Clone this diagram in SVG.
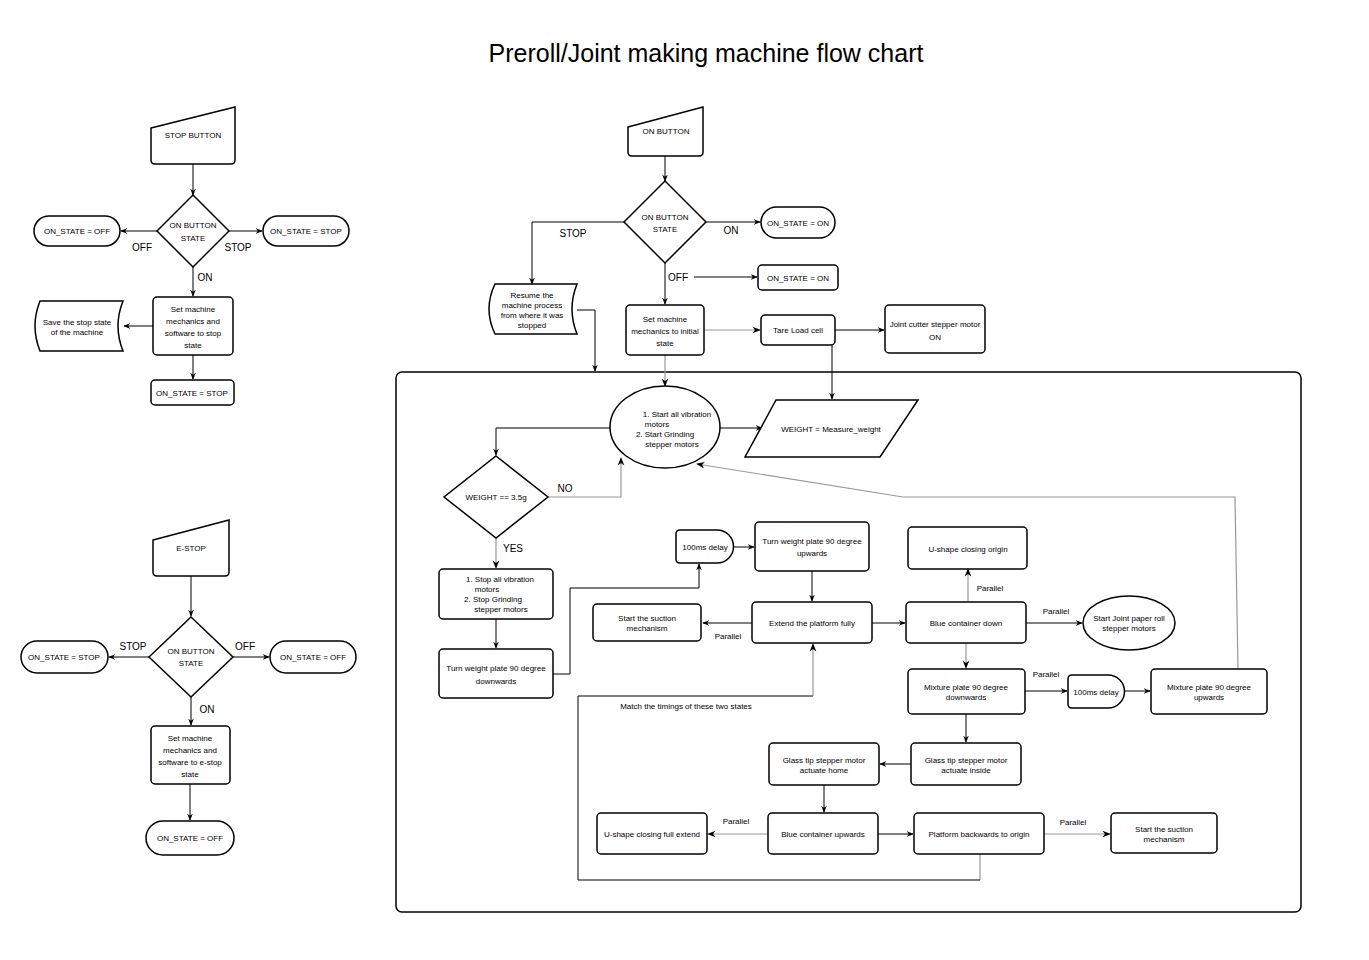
<svg xmlns="http://www.w3.org/2000/svg" width="1369" height="960" viewBox="0 0 1369 960">
<style>
.s{fill:#fff;stroke:#000;stroke-width:1.5}
.c{fill:none;stroke:#000;stroke-width:1}
.g{fill:none;stroke:#999;stroke-width:1.2}
text{font-family:"Liberation Sans",Arial,sans-serif;font-size:8px;text-anchor:middle;fill:#000}
.l{font-size:10px}
.t{font-size:25px}
</style>
<defs><marker id="a" viewBox="0 0 10 10" refX="9" refY="5" markerWidth="7" markerHeight="7" orient="auto"><path d="M0,1 L10,5 L0,9 L3,5 z" fill="#000"/></marker></defs>
<rect width="1369" height="960" fill="#fff"/>
<text class="t" x="706" y="62">Preroll/Joint making machine flow chart</text>
<rect x="396" y="372" width="905" height="540" rx="6" fill="none" stroke="#000" stroke-width="1.5"/>

<g id="connectors">
<path class="c" marker-end="url(#a)" d="M193,164V195"/>
<path class="c" marker-end="url(#a)" d="M157,231H121"/>
<path class="c" marker-end="url(#a)" d="M229,231H262"/>
<path class="c" marker-end="url(#a)" d="M193,267V296"/>
<path class="c" marker-end="url(#a)" d="M153,326H124"/>
<path class="c" marker-end="url(#a)" d="M193,355V379"/>
<path class="c" marker-end="url(#a)" d="M191,576V616"/>
<path class="c" marker-end="url(#a)" d="M149,657H109"/>
<path class="c" marker-end="url(#a)" d="M233,657H269"/>
<path class="c" marker-end="url(#a)" d="M191,697V725"/>
<path class="c" marker-end="url(#a)" d="M190,784V820"/>
<path class="c" marker-end="url(#a)" d="M665,156V181"/>
<path class="c" marker-end="url(#a)" d="M706,222H760"/>
<path class="c" marker-end="url(#a)" d="M624,222H532V284"/>
<path class="c" marker-end="url(#a)" d="M694,277H757"/>
<path class="c" marker-end="url(#a)" d="M665,263V304"/>
<path class="c" marker-end="url(#a)" d="M577,310H595V371"/>
<path class="g" marker-end="url(#a)" d="M704,330H760"/>
<path class="c" marker-end="url(#a)" d="M835,330H884"/>
<path class="c" marker-end="url(#a)" d="M832,345V399"/>
<path class="g" marker-end="url(#a)" d="M665,355V386"/>
<path class="c" marker-end="url(#a)" d="M720,428H762"/>
<path class="c" marker-end="url(#a)" d="M610,428H496V455"/>
<path class="g" marker-end="url(#a)" d="M548,497H621V458"/>
<path class="g" marker-end="url(#a)" d="M496,538V568"/>
<path class="c" marker-end="url(#a)" d="M496,619V648"/>
<path class="c" marker-end="url(#a)" d="M553,674H570V588H699V564"/>
<path class="c" marker-end="url(#a)" d="M733,547H754"/>
<path class="c" marker-end="url(#a)" d="M812,571V601"/>
<path class="c" marker-end="url(#a)" d="M752,623H703"/>
<path class="c" marker-end="url(#a)" d="M872,623H905"/>
<path class="g" marker-end="url(#a)" d="M968,602V569"/>
<path class="c" marker-end="url(#a)" d="M1026,623H1082"/>
<path class="g" marker-end="url(#a)" d="M966,643V668"/>
<path class="c" marker-end="url(#a)" d="M1025,691H1067"/>
<path class="c" marker-end="url(#a)" d="M1125,691H1150"/>
<path class="g" marker-end="url(#a)" d="M1238,669L1235,497H903L697,464"/>
<path class="c" marker-end="url(#a)" d="M966,714V742"/>
<path class="c" marker-end="url(#a)" d="M911,764H880"/>
<path class="c" marker-end="url(#a)" d="M824,785V812"/>
<path class="g" marker-end="url(#a)" d="M768,834H708"/>
<path class="c" marker-end="url(#a)" d="M878,834H913"/>
<path class="g" marker-end="url(#a)" d="M1044,834H1110"/>
<path class="g" d="M980,854V880"/>
<path class="c" d="M980,880H578V696H813"/>
<path class="g" marker-end="url(#a)" d="M813,696V644"/>
<text class="l" x="142" y="251">OFF</text><text class="l" x="238" y="251">STOP</text><text class="l" x="205" y="281">ON</text>
<text class="l" x="133" y="650">STOP</text><text class="l" x="245" y="650">OFF</text><text class="l" x="207" y="713">ON</text>
<text class="l" x="573" y="237">STOP</text><text class="l" x="731" y="234">ON</text><text class="l" x="678" y="281">OFF</text>
<text class="l" x="565" y="492">NO</text><text class="l" x="513" y="552">YES</text>
<text x="728" y="639">Parallel</text><text x="990" y="591">Parallel</text><text x="1056" y="614">Parallel</text>
<text x="1046" y="677">Parallel</text><text x="736" y="824">Parallel</text><text x="1073" y="825">Parallel</text>
<text x="686" y="709">Match the timings of these two states</text>
</g>

<g id="stop-button"><path class="s" d="M151,128L235,107V160Q235,164 231,164H155Q151,164 151,160Z"/><text x="193" y="138">STOP BUTTON</text></g>
<g id="stop-diamond"><path class="s" d="M193,195L229,231L193,267L157,231Z"/><text x="193" y="228">ON BUTTON</text><text x="193" y="241">STATE</text></g>
<g id="stop-off"><rect class="s" x="34" y="216" width="86" height="30" rx="15"/><text x="77" y="234">ON_STATE = OFF</text></g>
<g id="stop-stop"><rect class="s" x="263" y="216" width="86" height="30" rx="15"/><text x="306" y="234">ON_STATE = STOP</text></g>
<g id="stop-set"><rect class="s" x="153" y="297" width="80" height="58" rx="4"/><text x="193" y="312">Set machine</text><text x="193" y="324">mechanics and</text><text x="193" y="336">software to stop</text><text x="193" y="348">state</text></g>
<g id="stop-save"><path class="s" d="M40,301H123Q113,326 123,351H40Q30,326 40,301Z"/><text x="77" y="325">Save the stop state</text><text x="77" y="335">of the machine</text></g>
<g id="stop-final"><rect class="s" x="151" y="380" width="83" height="25" rx="4"/><text x="192" y="396">ON_STATE = STOP</text></g>

<g id="estop"><path class="s" d="M153,540L229,520V572Q229,576 225,576H157Q153,576 153,572Z"/><text x="191" y="551">E-STOP</text></g>
<g id="estop-diamond"><path class="s" d="M191,617L233,657L191,697L149,657Z"/><text x="191" y="654">ON BUTTON</text><text x="191" y="666">STATE</text></g>
<g id="estop-stop"><rect class="s" x="21" y="641" width="87" height="32" rx="16"/><text x="64" y="660">ON_STATE = STOP</text></g>
<g id="estop-off"><rect class="s" x="270" y="641" width="86" height="32" rx="16"/><text x="313" y="660">ON_STATE = OFF</text></g>
<g id="estop-set"><rect class="s" x="151" y="726" width="79" height="58" rx="4"/><text x="190" y="741">Set machine</text><text x="190" y="753">mechanics and</text><text x="190" y="765">software to e-stop</text><text x="190" y="777">state</text></g>
<g id="estop-final"><rect class="s" x="146" y="821" width="88" height="34" rx="17"/><text x="190" y="841">ON_STATE = OFF</text></g>

<g id="on-button"><path class="s" d="M628,127L703,107V152Q703,156 699,156H632Q628,156 628,152Z"/><text x="666" y="134">ON BUTTON</text></g>
<g id="on-diamond"><path class="s" d="M665,181L706,222L665,263L624,222Z"/><text x="665" y="220">ON BUTTON</text><text x="665" y="232">STATE</text></g>
<g id="on-on"><rect class="s" x="761" y="207" width="74" height="31" rx="15.5"/><text x="798" y="226">ON_STATE = ON</text></g>
<g id="off-on"><rect class="s" x="758" y="265" width="80" height="25" rx="4"/><text x="798" y="281">ON_STATE = ON</text></g>
<g id="resume"><path class="s" d="M495,284H577Q567,309 577,334H495Q483,309 495,284Z"/><text x="532" y="298">Resume the</text><text x="532" y="308">machine process</text><text x="532" y="318">from where it was</text><text x="532" y="328">stopped</text></g>
<g id="set-initial"><rect class="s" x="626" y="305" width="78" height="50" rx="4"/><text x="665" y="322">Set machine</text><text x="665" y="334">mechanics to initial</text><text x="665" y="346">state</text></g>
<g id="tare"><rect class="s" x="761" y="315" width="74" height="30" rx="4"/><text x="798" y="333">Tare Load cell</text></g>
<g id="cutter"><rect class="s" x="885" y="305" width="100" height="48" rx="4"/><text x="935" y="327">Joint cutter stepper motor</text><text x="935" y="340">ON</text></g>
<g id="start-motors"><ellipse class="s" cx="665" cy="427" rx="55" ry="41"/><text x="677" y="417">1. Start all vibration</text><text x="657" y="427">motors</text><text x="665" y="437">2. Start Grinding</text><text x="672" y="447">stepper motors</text></g>
<g id="measure"><path class="s" d="M776,400H918L880,457H745Z"/><text x="831" y="432">WEIGHT = Measure_weight</text></g>
<g id="weight-check"><path class="s" d="M496,456L548,497L496,538L444,497Z"/><text x="496" y="500">WEIGHT == 3.5g</text></g>
<g id="stop-motors"><rect class="s" x="439" y="569" width="114" height="50" rx="4"/><text x="500" y="582">1. Stop all vibration</text><text x="487" y="592">motors</text><text x="493" y="602">2. Stop Grinding</text><text x="501" y="612">stepper motors</text></g>
<g id="turn-down"><rect class="s" x="439" y="649" width="114" height="49" rx="4"/><text x="496" y="671">Turn weight plate 90 degree</text><text x="496" y="684">downwards</text></g>
<g id="delay1"><path class="s" d="M680,530H717A16.5,16.5 0 0 1 717,563H680Q676,563 676,559V534Q676,530 680,530Z"/><text x="705" y="550">100ms delay</text></g>
<g id="turn-up"><rect class="s" x="755" y="522" width="114" height="49" rx="4"/><text x="812" y="544">Turn weight plate 90 degree</text><text x="812" y="556">upwards</text></g>
<g id="suction1"><rect class="s" x="593" y="604" width="108" height="37" rx="4"/><text x="647" y="621">Start the suction</text><text x="647" y="631">mechanism</text></g>
<g id="extend"><rect class="s" x="752" y="602" width="120" height="41" rx="4"/><text x="812" y="626">Extend the platform fully</text></g>
<g id="u-origin"><rect class="s" x="908" y="527" width="119" height="42" rx="4"/><text x="968" y="552">U-shape closing origin</text></g>
<g id="blue-down"><rect class="s" x="906" y="602" width="120" height="41" rx="4"/><text x="966" y="626">Blue container down</text></g>
<g id="paper-roll"><ellipse class="s" cx="1129" cy="623" rx="46" ry="27"/><text x="1129" y="621">Start Joint paper roll</text><text x="1129" y="631">stepper motors</text></g>
<g id="mix-down"><rect class="s" x="908" y="669" width="117" height="45" rx="4"/><text x="966" y="690">Mixture plate 90 degree</text><text x="966" y="700">downwards</text></g>
<g id="delay2"><path class="s" d="M1072,675H1108A16.5,16.5 0 0 1 1108,708H1072Q1068,708 1068,704V679Q1068,675 1072,675Z"/><text x="1096" y="695">100ms delay</text></g>
<g id="mix-up"><rect class="s" x="1151" y="669" width="116" height="45" rx="4"/><text x="1209" y="690">Mixture plate 90 degree</text><text x="1209" y="700">upwards</text></g>
<g id="glass-inside"><rect class="s" x="911" y="743" width="110" height="42" rx="4"/><text x="966" y="763">Glass tip stepper motor</text><text x="966" y="773">actuate inside</text></g>
<g id="glass-home"><rect class="s" x="769" y="743" width="110" height="42" rx="4"/><text x="824" y="763">Glass tip stepper motor</text><text x="824" y="773">actuate home</text></g>
<g id="u-full"><rect class="s" x="597" y="813" width="110" height="41" rx="4"/><text x="652" y="837">U-shape closing full extend</text></g>
<g id="blue-up"><rect class="s" x="768" y="813" width="110" height="41" rx="4"/><text x="823" y="837">Blue container upwards</text></g>
<g id="platform-back"><rect class="s" x="914" y="813" width="130" height="41" rx="4"/><text x="979" y="837">Platform backwards to origin</text></g>
<g id="suction2"><rect class="s" x="1111" y="813" width="106" height="40" rx="4"/><text x="1164" y="832">Start the suction</text><text x="1164" y="842">mechanism</text></g>
</svg>
